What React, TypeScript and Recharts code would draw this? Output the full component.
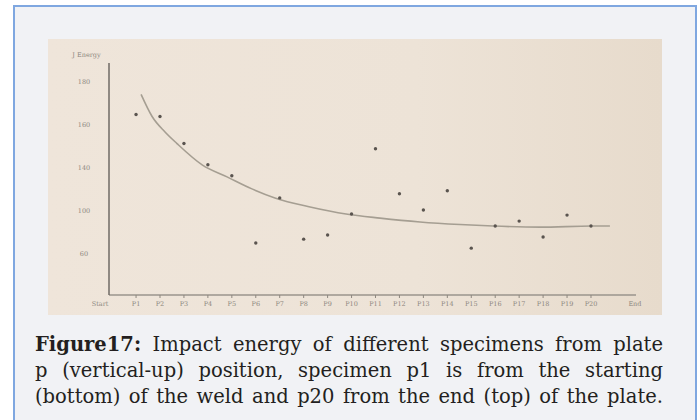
import { ComposedChart, XAxis, YAxis, Line, Scatter } from "recharts";

// specimen positions along the weld (Start, P1..P20, End)
const xTickLabels = ["Start", "P1", "P2", "P3", "P4", "P5", "P6", "P7", "P8", "P9", "P10",
  "P11", "P12", "P13", "P14", "P15", "P16", "P17", "P18", "P19", "P20", "End"];

// y axis: values on the linear scale, labels as printed on the scan
const yTickValues = [180, 160, 140, 120, 100];
const yTickLabels = ["180", "160", "140", "100", "60"];

// measured impact energy per specimen
const specimenIndex = [1, 2, 3, 4, 5, 6, 7, 8, 9, 10, 11, 12, 13, 14, 15, 16, 17, 18, 19, 20];
const impactEnergy = [165, 164.1, 151.5, 141.6, 136.5, 105.2, 126.2, 107, 108.9, 118.7,
  149.1, 128.1, 120.6, 129.5, 102.8, 113.1, 115.4, 108, 118.2, 113.1];

// hand drawn trend curve
const curveX = [1.21, 1.67, 2.2, 2.71, 3.76, 4.8, 5.84, 6.8, 8.27, 9.77, 11.19, 12.86, 14.53, 15.91, 17.87, 20.04, 20.79];
const curveY = [174.4, 164.1, 157.0, 151.5, 141.6, 136, 130.4, 126.2, 122, 118.7, 116.8, 115, 113.8, 113.1, 112.6, 113.1, 113.1];

const points = specimenIndex.map((x, i) => ({ x, y: impactEnergy[i] }));
const curve = curveX.map((x, i) => ({ x, y: curveY[i] }));

const inkGrey = "#8d877f";

function XTick({ x, y, payload }: { x?: number; y?: number; payload?: { value: number } }) {
  const i = payload?.value ?? 0;
  const label = xTickLabels[i];
  const edge = label === "Start" || label === "End";
  const dx = label === "Start" ? -12 : label === "End" ? 20 : 0;
  return (
    <g>
      {!edge && <line x1={x} x2={x} y1={(y ?? 0) - 2} y2={(y ?? 0) + 1} stroke={inkGrey} strokeWidth={1} />}
      <text x={(x ?? 0) + dx} y={(y ?? 0) + 9} textAnchor="middle" fontSize={6.5} fill={inkGrey}
        fontFamily="'DejaVu Serif', serif">
        {label}
      </text>
    </g>
  );
}

function YTick({ x, y, payload }: { x?: number; y?: number; payload?: { value: number } }) {
  const idx = yTickValues.indexOf(payload?.value ?? 0);
  return (
    <text x={(x ?? 0) - 23} y={(y ?? 0) + 2} textAnchor="middle" fontSize={6.5} fill={inkGrey}
      fontFamily="'DejaVu Serif', serif">
      {yTickLabels[idx]}
    </text>
  );
}

function Dot({ cx, cy }: { cx?: number; cy?: number }) {
  return <circle cx={cx} cy={cy} r={1.7} fill="#5a544f" />;
}

export default function App() {
  return (
    <div style={{ position: "fixed", left: 0, top: 0, width: 699, height: 420, background: "#ffffff", overflow: "hidden" }}>
      <div
        style={{
          position: "absolute",
          left: 13,
          top: 5,
          width: 680,
          height: 430,
          border: "2px solid #7fa7e0",
          background: "#f1f2f5",
        }}
      />
      <div
        style={{
          position: "absolute",
          left: 48,
          top: 39,
          width: 614,
          height: 276,
          background: "linear-gradient(90deg, #efe5da 0%, #ede3d7 60%, #e7dbcc 100%)",
        }}
      >
        <ComposedChart width={614} height={276} margin={{ top: 24, right: 26, left: 0, bottom: 0 }}>
          <XAxis
            type="number"
            dataKey="x"
            domain={[-0.13, 21.88]}
            ticks={xTickLabels.map((_, i) => i)}
            interval={0}
            height={20}
            tickSize={0}
            tickLine={false}
            axisLine={{ stroke: "#9a948c", strokeWidth: 1.3 }}
            tick={<XTick />}
          />
          <YAxis
            type="number"
            dataKey="y"
            domain={[81, 189]}
            ticks={yTickValues}
            interval={0}
            width={61}
            tickSize={0}
            tickLine={false}
            axisLine={{ stroke: "#6f6a65", strokeWidth: 1.5 }}
            tick={<YTick />}
            label={{ value: "J Energy", position: "top", offset: 6, dx: 8, fontSize: 6.5, fill: inkGrey, fontFamily: "'DejaVu Serif', serif" }}
          />
          <Line
            data={curve}
            dataKey="y"
            type="monotone"
            stroke="#a59e92"
            strokeWidth={1.6}
            dot={false}
            isAnimationActive={false}
          />
          <Scatter data={points} dataKey="y" shape={<Dot />} isAnimationActive={false} />
        </ComposedChart>
      </div>
      <div
        style={{
          position: "absolute",
          left: 35,
          top: 332,
          width: 628,
          fontFamily: "'DejaVu Serif', serif",
          fontSize: 19.5,
          lineHeight: "26px",
          color: "#231f20",
        }}
      >
        <div style={{ textAlign: "justify", textAlignLast: "justify", whiteSpace: "nowrap" }}>
          <b>Figure17:</b> Impact energy of different specimens from plate
        </div>
        <div style={{ textAlign: "justify", textAlignLast: "justify", whiteSpace: "nowrap" }}>
          p (vertical-up) position, specimen p1 is from the starting
        </div>
        <div style={{ textAlign: "justify", textAlignLast: "justify", whiteSpace: "nowrap" }}>
          (bottom) of the weld and p20 from the end (top) of the plate.
        </div>
      </div>
    </div>
  );
}
